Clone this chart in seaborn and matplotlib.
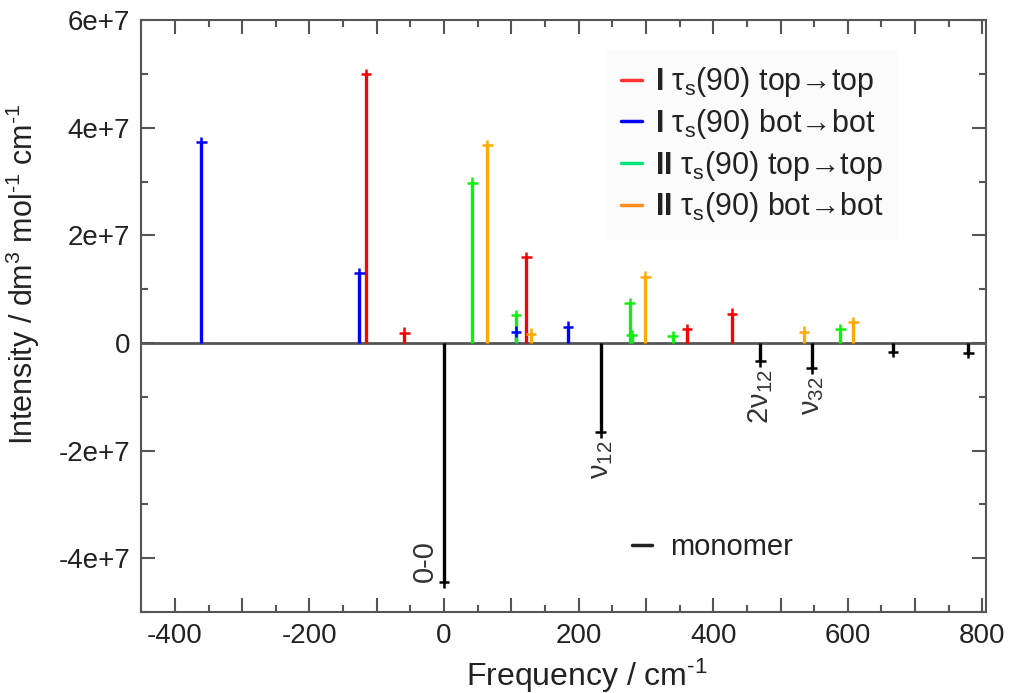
import numpy as np
import pandas as pd
import seaborn as sns
import matplotlib.pyplot as plt
from matplotlib.lines import Line2D
from matplotlib.ticker import MultipleLocator, FuncFormatter

sns.set_style("ticks")
plt.rcParams['font.family'] = ['Liberation Sans', 'DejaVu Sans']
plt.rcParams['mathtext.fontset'] = 'custom'
plt.rcParams['mathtext.rm'] = 'Liberation Sans'
plt.rcParams['mathtext.it'] = 'Liberation Sans:italic'
plt.rcParams['mathtext.bf'] = 'Liberation Sans:bold'

# datos (frecuencia en cm-1, intensidad)
freq_I_top = [-116, -59, 122, 361, 428]
int_I_top = [4.99e7, 1.9e6, 1.59e7, 2.6e6, 5.4e6]

freq_I_bot = [-361, -126, 107, 184]
int_I_bot = [3.73e7, 1.3e7, 2.1e6, 3.0e6]

freq_II_top = [42, 107, 276, 279, 340, 589]
int_II_top = [2.98e7, 5.2e6, 7.4e6, 1.4e6, 1.2e6, 2.6e6]

freq_II_bot = [64, 129, 299, 535, 608]
int_II_bot = [3.67e7, 1.7e6, 1.23e7, 2.1e6, 3.9e6]

freq_mono = [0, 233, 470, 546, 667, 779]
int_mono = [-4.45e7, -1.66e7, -3.4e6, -4.7e6, -1.6e6, -1.8e6]

labels_mono = ["0-0", r"ν$_{12}$", r"2ν$_{12}$", r"ν$_{32}$"]
freq_labels = [0, 233, 470, 546]

series = [
    (r"$\mathbf{I}$ τ$_\mathrm{s}$(90) top→top", freq_I_top, int_I_top, '#ff0000', '#ff3333'),
    (r"$\mathbf{I}$ τ$_\mathrm{s}$(90) bot→bot", freq_I_bot, int_I_bot, '#0000ff', '#0000ff'),
    (r"$\mathbf{II}$ τ$_\mathrm{s}$(90) top→top", freq_II_top, int_II_top, '#11ee11', '#00e67a'),
    (r"$\mathbf{II}$ τ$_\mathrm{s}$(90) bot→bot", freq_II_bot, int_II_bot, '#ffaa00', '#ff8c1a'),
    ("monomer", freq_mono, int_mono, '#000000', '#000000'),
]

rows = []
for nombre, f, I, c, _ in series:
    for a, b in zip(f, I):
        rows.append({'serie': nombre, 'freq': a, 'intensidad': b})
df = pd.DataFrame(rows)
paleta = {s[0]: s[3] for s in series}

fig = plt.figure(figsize=(10.09, 6.93), dpi=100)
ax = fig.add_axes([0.14, 0.117, 0.837, 0.854])

ax.axhline(0, color='#555555', lw=2, zorder=1)
for nombre, f, I, c, _ in series:
    ax.vlines(f, 0, I, colors=c, lw=2.4, zorder=2)
sns.scatterplot(data=df, x='freq', y='intensidad', hue='serie', palette=paleta,
                marker='+', s=60, linewidth=1.8, legend=False, ax=ax, zorder=3)

# etiquetas de las bandas del monomero
for txt, f in zip(labels_mono, freq_labels):
    I = int_mono[freq_mono.index(f)]
    if f == 0:
        ax.text(f - 8, I, txt, rotation=90, ha='right', va='bottom', fontsize=21, color='#333333')
    else:
        ax.text(f, I - 1.6e6, txt, rotation=90, ha='center', va='top', fontsize=21, color='#333333')

ax.set_xlim(-450, 805)
ax.set_ylim(-5e7, 6e7)
ax.xaxis.set_major_locator(MultipleLocator(100))
ax.xaxis.set_minor_locator(MultipleLocator(50))
ax.xaxis.set_major_formatter(FuncFormatter(lambda v, p: f"{v:.0f}" if round(v) % 200 == 0 else ""))
ax.yaxis.set_major_locator(MultipleLocator(2e7))
ax.yaxis.set_minor_locator(MultipleLocator(1e7))
ax.yaxis.set_major_formatter(FuncFormatter(lambda v, p: "0" if v == 0 else f"{v/1e7:.0f}e+7"))
ax.tick_params(which='both', direction='in', top=True, right=True, color='#555555',
               labelsize=20, labelcolor='#222222', pad=8)
ax.tick_params(which='major', length=10, width=1.5)
ax.tick_params(which='minor', length=5, width=1.5)
for s in ax.spines.values():
    s.set_color('#555555')
    s.set_linewidth(1.5)

ax.set_xlabel("Frequency / cm$^{\u2010 1}$", fontsize=23, color='#222222')
ax.set_ylabel("Intensity / dm$^3$ mol$^{\u2010 1}$ cm$^{\u2010 1}$", fontsize=22, color='#222222')
ax.xaxis.set_label_coords(0.527, -0.075)
ax.yaxis.set_label_coords(-0.117, 0.57)

handles = [Line2D([0], [0], color=s[4], lw=2.5) for s in series[:4]]
leg = ax.legend(handles, [s[0] for s in series[:4]], loc='upper left',
                bbox_to_anchor=(0.532, 0.975), fontsize=22, frameon=True,
                handlelength=0.7, handletextpad=0.4, labelspacing=0.25,
                borderpad=0.5, fancybox=False)
leg.get_frame().set_facecolor('#fbfbfb')
leg.get_frame().set_edgecolor('none')
for t in leg.get_texts():
    t.set_color('#222222')
ax.add_artist(leg)

h2 = [Line2D([0], [0], color='#222222', lw=2.5)]
leg2 = ax.legend(h2, ["monomer"], loc='lower left', bbox_to_anchor=(0.55, 0.042),
                 fontsize=21, frameon=False, handlelength=0.7, handletextpad=0.6)
for t in leg2.get_texts():
    t.set_color('#222222')

fig.savefig('out.png', dpi=100)
